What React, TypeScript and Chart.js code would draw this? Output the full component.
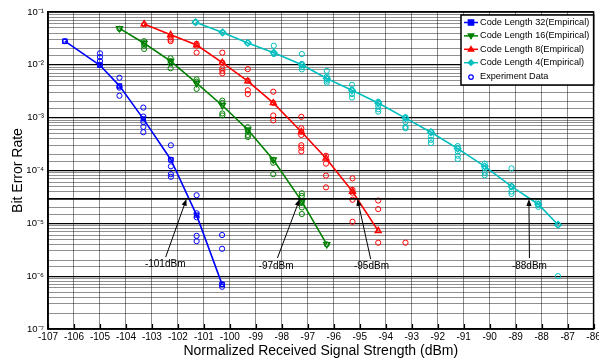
import React, { useEffect, useRef } from 'react';
import { Chart, registerables } from 'chart.js';

Chart.register(...registerables);

const FONT = '"Liberation Sans", Arial, Helvetica, sans-serif';

// ---- Empirical curves ----
const cl32X = [-106.35, -105.0, -104.25, -103.33, -102.27, -101.28, -100.3];
const cl32Y = [0.028, 0.0098, 0.004, 0.00095, 0.00016, 0.0000143, 0.0000007];

const cl16X = [-104.25, -103.3, -102.28, -101.28, -100.29, -99.31, -98.33, -97.23, -96.27];
const cl16Y = [0.049, 0.0256, 0.0118, 0.0045, 0.0017, 0.00059, 0.00016, 0.000026, 0.000004];

const cl8X = [-103.3, -102.28, -101.28, -100.29, -99.31, -98.33, -97.25, -96.3, -95.28, -94.29];
const cl8Y = [0.059, 0.037, 0.0237, 0.011, 0.0049, 0.0019, 0.00054, 0.00017, 0.00004, 0.0000072];

const cl4X = [-101.32, -100.28, -99.31, -98.31, -97.23, -96.27, -95.3, -94.29, -93.24, -92.26, -91.23, -90.19, -89.16, -88.13, -87.37];
const cl4Y = [0.064, 0.041, 0.026, 0.017, 0.01, 0.0055, 0.0033, 0.0019, 0.00098, 0.00053, 0.00026, 0.00012, 0.00005, 0.000023, 0.0000094];

// ---- Experiment data (grouped by measurement position) ----
const exp32X = [-106.35, -105.0, -104.25, -103.33, -102.27, -101.28, -100.3];
const exp32Y = [
  [0.028],
  [0.0165, 0.014, 0.0118, 0.01],
  [0.0057, 0.0039, 0.0037, 0.0026],
  [0.00155, 0.00105, 0.00083, 0.00067, 0.00053],
  [0.0003, 0.00016, 0.00012, 0.000085, 0.000076],
  [0.000034, 0.0000155, 0.000013, 0.0000058, 0.0000046],
  [0.000006, 0.0000033, 0.0000007, 0.00000063],
];

const exp16X = [-104.25, -103.3, -102.28, -101.28, -100.29, -99.31, -98.33, -97.23, -96.27];
const exp16Y = [
  [0.048],
  [0.028, 0.0257, 0.023, 0.02],
  [0.0133, 0.0118, 0.0107, 0.0086],
  [0.0053, 0.0048, 0.0035],
  [0.0021, 0.0019, 0.0012, 0.0011],
  [0.00066, 0.00056, 0.00047, 0.00043],
  [0.00016, 0.00014, 0.000085],
  [0.000037, 0.000033, 0.000025, 0.00002, 0.000015],
  [0.000004],
];

const exp8X = [-103.3, -102.28, -101.28, -100.29, -99.31, -98.33, -97.25, -96.3, -95.28, -94.29, -93.24];
const exp8Y = [
  [0.058],
  [0.033, 0.03, 0.028],
  [0.025, 0.023, 0.017],
  [0.017, 0.011, 0.0086, 0.0077, 0.0069],
  [0.0083, 0.005, 0.0033, 0.0028],
  [0.0031, 0.0019, 0.0011, 0.00089],
  [0.00104, 0.00063, 0.00054, 0.00047, 0.0003, 0.00027, 0.00023],
  [0.00019, 0.000135, 0.00008, 0.000048],
  [0.000071, 0.000043, 0.000038, 0.000028, 0.0000107],
  [0.000027, 0.0000186, 0.0000043],
  [0.0000043],
];

const exp4X = [-101.32, -100.28, -99.31, -98.31, -97.23, -96.27, -95.3, -94.29, -93.24, -92.26, -91.23, -90.19, -89.16, -88.13, -87.37];
const exp4Y = [
  [0.064],
  [0.041],
  [0.026],
  [0.023, 0.017, 0.016],
  [0.016, 0.0104, 0.0091, 0.0082],
  [0.0077, 0.006, 0.005, 0.0046],
  [0.0042, 0.0033, 0.0028, 0.0024],
  [0.002, 0.00166, 0.00144, 0.0013],
  [0.00102, 0.00083, 0.00067, 0.00063],
  [0.00054, 0.00044, 0.00038, 0.00033],
  [0.00029, 0.00023, 0.00019, 0.000165],
  [0.000135, 0.00011, 0.000091, 0.000081],
  [0.00011, 0.00005, 0.00004, 0.000036],
  [0.000026, 0.000023, 0.0000205],
  [0.0000094, 0.000001],
];

// ---- Series meta ----
const seriesLabels = ['Code Length 32(Empirical)', 'Code Length 16(Empirical)', 'Code Length 8(Empirical)', 'Code Length 4(Empirical)'];
const expLabel = 'Experiment Data';
const colors = ['#0000ff', '#008000', '#ff0000', '#00bfbf'];

// ---- Threshold & annotations ----
const thresholdBER = 2.9e-5;
const annLabels = ['-101dBm', '-97dBm', '-95dBm', '-88dBm'];
const annTipX = [-101.67, -97.31, -95.09, -88.49];
const annTailX = [-102.47, -98.17, -94.58, -88.47];
const annTailY = [2.3e-6, 2.2e-6, 2.1e-6, 2.2e-6];
const annTextX = [-102.49, -98.22, -94.55, -88.47];
const annTextY = [1.7e-6, 1.55e-6, 1.55e-6, 1.55e-6];

const xMin = -107;
const xMax = -86;
const yMin = 1e-7;
const yMax = 1e-1;

const SUP: Record<string, string> = { '-': '⁻', '0': '⁰', '1': '¹', '2': '²', '3': '³', '4': '⁴', '5': '⁵', '6': '⁶', '7': '⁷', '8': '⁸', '9': '⁹' };
const sup = (s: string) => s.split('').map((c) => SUP[c] || c).join('');
const isDecade = (v: number) => Math.abs(Math.log10(v) - Math.round(Math.log10(v))) < 1e-6;

const pts = (xs: number[], ys: number[]) => xs.map((x, i) => ({ x, y: ys[i] }));
const groupPts = (xs: number[], ys: number[][]) => xs.flatMap((x, i) => ys[i].map((y) => ({ x, y })));

function drawMarker(ctx: CanvasRenderingContext2D, kind: string, x: number, y: number, r: number) {
  ctx.beginPath();
  if (kind === 'rect') {
    ctx.rect(x - r, y - r, 2 * r, 2 * r);
  } else if (kind === 'down') {
    ctx.moveTo(x - r, y - r * 0.7);
    ctx.lineTo(x + r, y - r * 0.7);
    ctx.lineTo(x, y + r);
    ctx.closePath();
  } else if (kind === 'up') {
    ctx.moveTo(x - r, y + r * 0.7);
    ctx.lineTo(x + r, y + r * 0.7);
    ctx.lineTo(x, y - r);
    ctx.closePath();
  } else if (kind === 'diamond') {
    ctx.moveTo(x, y - r);
    ctx.lineTo(x + r, y);
    ctx.lineTo(x, y + r);
    ctx.lineTo(x - r, y);
    ctx.closePath();
  } else {
    ctx.arc(x, y, r, 0, Math.PI * 2);
  }
}

const overlayPlugin = {
  id: 'overlay',
  afterDatasetsDraw(chart: any) {
    const { ctx, chartArea, scales } = chart;
    const xs = scales.x;
    const ys = scales.y;
    ctx.save();
    // threshold line
    const ty = ys.getPixelForValue(thresholdBER);
    ctx.strokeStyle = '#000';
    ctx.lineWidth = 1.6;
    ctx.beginPath();
    ctx.moveTo(chartArea.left, ty);
    ctx.lineTo(chartArea.right, ty);
    ctx.stroke();

    // inward ticks on bottom
    ctx.lineWidth = 1.2;
    for (let v = xMin; v <= xMax; v++) {
      const px = Math.round(xs.getPixelForValue(v)) + 0.5;
      ctx.beginPath();
      ctx.moveTo(px, chartArea.bottom);
      ctx.lineTo(px, chartArea.bottom - 5);
      ctx.stroke();
    }

    // frame
    ctx.lineWidth = 1.5;
    ctx.strokeRect(chartArea.left, chartArea.top, chartArea.right - chartArea.left, chartArea.bottom - chartArea.top);

    // annotations
    ctx.font = `10px ${FONT}`;
    ctx.textAlign = 'center';
    ctx.textBaseline = 'middle';
    ctx.fillStyle = '#000';
    annLabels.forEach((lab, i) => {
      const x0 = xs.getPixelForValue(annTailX[i]);
      const y0 = ys.getPixelForValue(annTailY[i]);
      const x1 = xs.getPixelForValue(annTipX[i]);
      const y1 = ty;
      const ang = Math.atan2(y1 - y0, x1 - x0);
      const hl = 7;
      const hw = 2.6;
      ctx.lineWidth = 1;
      ctx.strokeStyle = '#000';
      ctx.beginPath();
      ctx.moveTo(x0, y0);
      ctx.lineTo(x1 - Math.cos(ang) * hl * 0.8, y1 - Math.sin(ang) * hl * 0.8);
      ctx.stroke();
      ctx.beginPath();
      ctx.moveTo(x1, y1);
      ctx.lineTo(x1 - Math.cos(ang) * hl - Math.sin(ang) * hw, y1 - Math.sin(ang) * hl + Math.cos(ang) * hw);
      ctx.lineTo(x1 - Math.cos(ang) * hl + Math.sin(ang) * hw, y1 - Math.sin(ang) * hl - Math.cos(ang) * hw);
      ctx.closePath();
      ctx.fill();
      ctx.fillText(lab, xs.getPixelForValue(annTextX[i]), ys.getPixelForValue(annTextY[i]));
    });

    // legend
    const kinds = ['rect', 'down', 'up', 'diamond'];
    const lx0 = 461;
    const ly0 = chartArea.top + 3;
    const lw = chartArea.right - lx0;
    const rowH = 13.4;
    const lh = rowH * 5 + 3;
    ctx.fillStyle = '#fff';
    ctx.fillRect(lx0, ly0, lw, lh);
    ctx.strokeStyle = '#000';
    ctx.lineWidth = 1.5;
    ctx.strokeRect(lx0, ly0, lw, lh);
    ctx.font = `9.2px ${FONT}`;
    ctx.textAlign = 'left';
    ctx.textBaseline = 'middle';
    const labels = [...seriesLabels, expLabel];
    labels.forEach((lab, i) => {
      const cy = ly0 + 7.5 + i * rowH;
      const col = colors[i < 4 ? i : 0];
      ctx.strokeStyle = col;
      ctx.fillStyle = col;
      if (i < 4) {
        ctx.lineWidth = 1.5;
        ctx.beginPath();
        ctx.moveTo(lx0 + 3, cy);
        ctx.lineTo(lx0 + 17, cy);
        ctx.stroke();
        drawMarker(ctx, kinds[i], lx0 + 10, cy, 2.6);
        ctx.fill();
        ctx.stroke();
      } else {
        ctx.lineWidth = 1.2;
        drawMarker(ctx, 'circle', lx0 + 10, cy + 1, 2.3);
        ctx.stroke();
      }
      ctx.fillStyle = '#000';
      ctx.fillText(lab, lx0 + 19, cy);
    });
    ctx.restore();
  },
};

export default function App() {
  const ref = useRef<HTMLCanvasElement>(null);

  useEffect(() => {
    document.body.style.margin = '0';
    const curveXs = [cl32X, cl16X, cl8X, cl4X];
    const curveYs = [cl32Y, cl16Y, cl8Y, cl4Y];
    const expXs = [exp32X, exp16X, exp8X, exp4X];
    const expYs = [exp32Y, exp16Y, exp8Y, exp4Y];
    const styles = ['rect', 'triangle', 'triangle', 'rectRot'];
    const rots = [0, 180, 0, 0];
    const radii = [2.8, 3.4, 3.4, 3.2];

    const expSets = expXs.map((xs, i) => ({
      label: expLabel,
      data: groupPts(xs, expYs[i]),
      showLine: false,
      pointStyle: 'circle',
      pointRadius: 2.6,
      pointBorderWidth: 1,
      borderColor: colors[i],
      backgroundColor: 'rgba(0,0,0,0)',
      pointBackgroundColor: 'rgba(0,0,0,0)',
      pointBorderColor: colors[i],
    }));
    const curveSets = curveXs.map((xs, i) => ({
      label: seriesLabels[i],
      data: pts(xs, curveYs[i]),
      showLine: true,
      borderColor: colors[i],
      borderWidth: 1.6,
      backgroundColor: 'rgba(0,0,0,0)',
      pointStyle: styles[i],
      pointRotation: rots[i],
      pointRadius: radii[i],
      pointBorderWidth: 1.4,
      pointBorderColor: colors[i],
      pointBackgroundColor: 'rgba(0,0,0,0)',
      tension: 0,
    }));

    const chart = new Chart(ref.current!, {
      type: 'scatter',
      data: { datasets: [...expSets, ...curveSets] as any },
      options: {
        animation: false,
        responsive: false,
        maintainAspectRatio: false,
        layout: { padding: { top: 12, right: 1, left: 0, bottom: 0 } },
        plugins: { legend: { display: false }, tooltip: { enabled: false } },
        scales: {
          x: {
            type: 'linear',
            min: xMin,
            max: xMax,
            ticks: {
              stepSize: 1,
              autoSkip: false,
              maxRotation: 0,
              padding: 2,
              color: '#000',
              font: { family: FONT, size: 10 },
              callback: (v: any) => String(v),
            },
            grid: { color: 'rgba(0,0,0,0.45)', lineWidth: 1, drawTicks: false },
            border: { display: true, color: '#000', width: 1.5 },
            title: {
              display: true,
              text: 'Normalized Received Signal Strength (dBm)',
              color: '#000',
              font: { family: FONT, size: 14 },
              padding: { top: 0, bottom: 0 },
            },
            afterFit: (s: any) => {
              s.height = 31;
              s.paddingLeft = 0;
              s.paddingRight = 0;
            },
          },
          y: {
            type: 'logarithmic',
            min: yMin,
            max: yMax,
            ticks: {
              autoSkip: false,
              padding: 4,
              color: '#000',
              font: { family: FONT, size: 9.5 },
              callback: (v: any) => (isDecade(Number(v)) ? '10' + sup(String(Math.round(Math.log10(Number(v))))) : ''),
            },
            grid: {
              color: (c: any) => (c.tick && isDecade(c.tick.value) ? '#000' : 'rgba(0,0,0,0.55)'),
              lineWidth: (c: any) => (c.tick && isDecade(c.tick.value) ? 1.2 : 0.8),
              drawTicks: false,
            },
            border: { display: true, color: '#000', width: 1.5 },
            title: {
              display: true,
              text: 'Bit Error Rate',
              color: '#000',
              font: { family: FONT, size: 14 },
              padding: { top: 10, bottom: 0 },
            },
            afterFit: (s: any) => {
              s.width = 48;
              s.paddingTop = 0;
              s.paddingBottom = 0;
            },
          },
        },
      },
      plugins: [overlayPlugin],
    });
    return () => chart.destroy();
  }, []);

  return (
    <div style={{ position: 'absolute', left: 0, top: 0, width: 599, height: 360, background: '#fff', overflow: 'hidden' }}>
      <canvas ref={ref} width={599} height={360} style={{ display: 'block', width: 599, height: 360 }} />
    </div>
  );
}
